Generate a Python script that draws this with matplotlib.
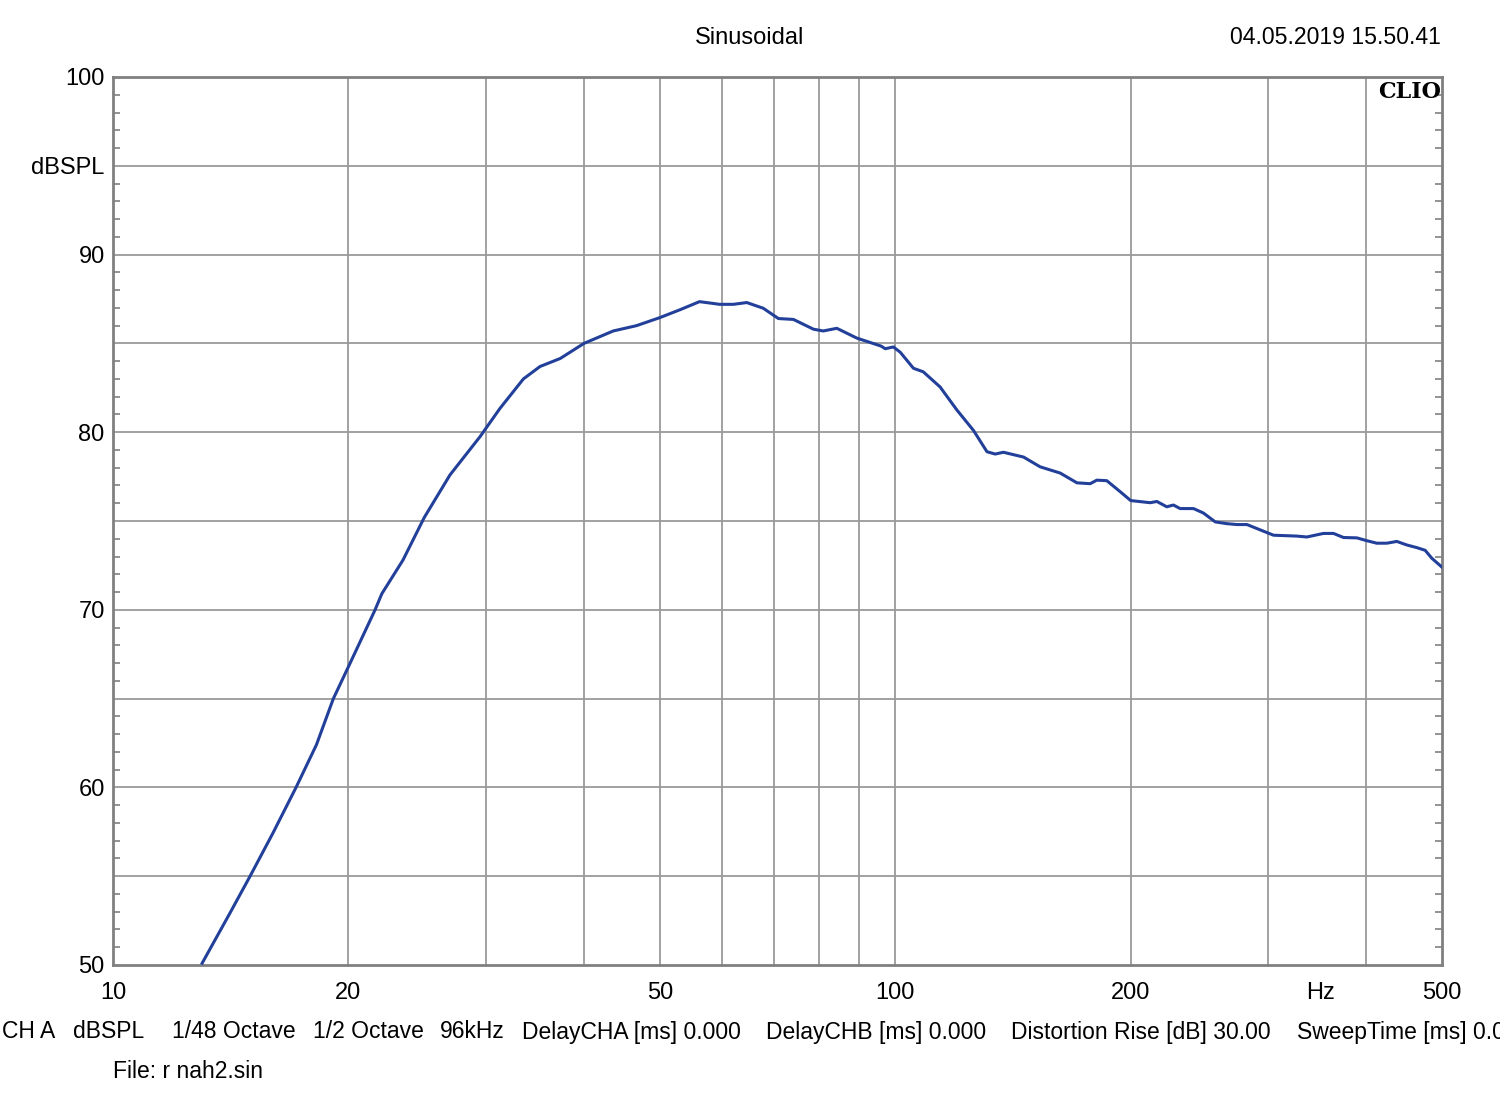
import matplotlib.pyplot as plt
from matplotlib.ticker import MultipleLocator, NullFormatter

# frequency response (Hz, dBSPL)
freq_hz = [13.0, 14.1, 14.97, 16.0, 17.14, 18.2, 19.13, 20.0, 21.63, 22.06, 23.48,
           25.0, 26.97, 29.46,
           31.25, 33.47, 35.15, 37.3, 40.0, 43.6, 46.7, 50.0, 53.1, 56.2,
           58.5, 59.6, 62.1, 64.6, 67.8, 70.9, 74.1, 78.6, 80.9, 84.2,
           89.3, 95.9, 97.1, 99.45, 101.5, 105.5, 108.6, 114.1, 119.9, 125.9,
           131.0, 134.2, 137.5, 145.9, 153.2, 162.5, 170.7, 177.5, 181.0, 186.4,
           193.9, 200.0, 211.8, 216.0, 222.4, 226.8, 231.3, 240.6, 247.7, 256.5,
           265.4, 273.4, 281.6, 292.8, 304.5, 326.1, 335.9, 352.7, 363.3, 374.2,
           389.3, 400.0, 412.6, 425.0, 437.7, 450.8, 464.4, 475.8, 485.3, 500.0]
spl_db = [50.1, 52.9, 55.0, 57.4, 60.0, 62.4, 65.0, 66.8, 70.0, 70.9, 72.8,
          75.2, 77.6, 79.75,
          81.35, 83.0, 83.7, 84.15, 85.0, 85.7, 86.0, 86.45, 86.9, 87.35,
          87.25, 87.2, 87.2, 87.3, 86.98, 86.4, 86.35, 85.8, 85.7, 85.85,
          85.3, 84.85, 84.7, 84.8, 84.5, 83.6, 83.4, 82.55, 81.25, 80.1,
          78.9, 78.77, 78.87, 78.6, 78.05, 77.7, 77.15, 77.1, 77.3, 77.27,
          76.65, 76.15, 76.03, 76.1, 75.8, 75.9, 75.7, 75.7, 75.45, 74.95,
          74.85, 74.8, 74.8, 74.5, 74.2, 74.15, 74.1, 74.3, 74.3, 74.07,
          74.05, 73.9, 73.75, 73.75, 73.85, 73.65, 73.5, 73.35, 72.9, 72.4]

x_grid = [20, 30, 40, 50, 60, 70, 80, 90, 100, 200, 300, 400]
y_grid = [55, 60, 65, 70, 75, 80, 85, 90, 95]
x_ticks = [10, 20, 50, 100, 200, 350, 500]
x_labels = ["10", "20", "50", "100", "200", "Hz", "500"]
y_ticks = [50, 55, 60, 65, 70, 75, 80, 85, 90, 95, 100]
y_labels = ["50", "", "60", "", "70", "", "80", "", "90", "dBSPL", "100"]

info_items = ["CH A", "dBSPL", "1/48 Octave", "1/2 Octave", "96kHz",
              "DelayCHA [ms] 0.000", "DelayCHB [ms] 0.000",
              "Distortion Rise [dB] 30.00", "SweepTime [ms] 0.000"]
info_x_px = [2, 73, 172, 313, 440, 522, 766, 1011, 1297]

plt.rcParams["font.family"] = ["Liberation Sans", "DejaVu Sans"]

W, H = 1500, 1110
fig = plt.figure(figsize=(15, 11.1), dpi=100)
ax = fig.add_axes([113 / W, 1 - 965 / H, (1442 - 113) / W, (965 - 77) / H])

grid_color = "#9a9a9a"
for xv in x_grid:
    ax.axvline(xv, color=grid_color, linewidth=1.3, zorder=1)
for yv in y_grid:
    ax.axhline(yv, color=grid_color, linewidth=1.3, zorder=1)

ax.plot(freq_hz, spl_db, color="#22409a", linewidth=2.2, zorder=3)

ax.set_xscale("log")
ax.set_xlim(10, 500)
ax.set_ylim(50, 100)

ax.set_xticks(x_ticks)
ax.set_xticklabels(x_labels)
ax.xaxis.set_minor_formatter(NullFormatter())
ax.tick_params(axis="x", which="both", length=0, pad=12, labelsize=17)

ax.set_yticks(y_ticks)
ax.set_yticklabels(y_labels)
ax.yaxis.set_minor_locator(MultipleLocator(1))
ax.tick_params(axis="y", which="major", length=0, pad=6, labelsize=17)
ax.tick_params(axis="y", which="minor", direction="in", length=5,
               width=1.2, color="#808080", left=True, right=True)

for spine in ax.spines.values():
    spine.set_color("#808080")
    spine.set_linewidth(2)

ax.text(0.999, 0.996, "CLIO", transform=ax.transAxes, ha="right", va="top",
        fontsize=16, fontweight="bold", family="DejaVu Serif")

fig.text(750 / W, 1 - 38 / H, "Sinusoidal", ha="center", va="center", fontsize=17)
fig.text(1441 / W, 1 - 38 / H, "04.05.2019 15.50.41", ha="right", va="center",
         fontsize=16.6)

for label, xp in zip(info_items, info_x_px):
    fig.text(xp / W, 1 - 1032 / H, label, ha="left", va="center", fontsize=16.5)
fig.text(113 / W, 1 - 1072 / H, "File: r nah2.sin", ha="left", va="center",
         fontsize=16.5)

fig.savefig("out.png", dpi=100)
